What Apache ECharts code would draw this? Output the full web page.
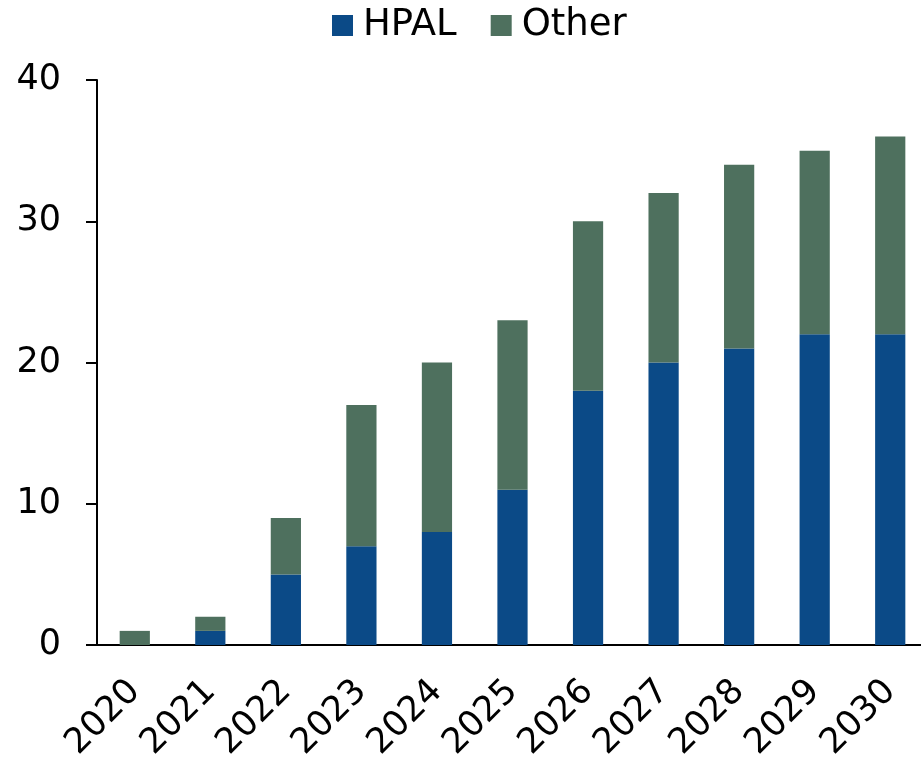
<!DOCTYPE html>
<html>
<head>
<meta charset="utf-8">
<script src="https://cdn.jsdelivr.net/npm/echarts@6/dist/echarts.min.js"></script>
<style>
  html, body { margin: 0; padding: 0; background: #fff; }
  #chart { width: 921px; height: 760px; }
</style>
</head>
<body>
<div id="chart"></div>
<script>
// Years on the category axis
const years = ['2020', '2021', '2022', '2023', '2024', '2025', '2026', '2027', '2028', '2029', '2030'];
// Stacked components
const hpal = [0, 1, 5, 7, 8, 11, 18, 20, 21, 22, 22];
const other = [1, 1, 4, 10, 12, 12, 12, 12, 13, 13, 14];
const yTicks = [0, 10, 20, 30, 40];

const FONT = 'DejaVu Sans';
const chart = echarts.init(document.getElementById('chart'));

chart.setOption({
  animation: false,
  textStyle: { fontFamily: FONT, color: '#000' },
  legend: {
    top: 2,
    left: 327,
    itemWidth: 21,
    itemHeight: 21,
    itemGap: 34,
    icon: 'rect',
    textStyle: { fontFamily: FONT, fontSize: 37, color: '#000', padding: [0, 0, 0, 5] },
    data: ['HPAL', 'Other']
  },
  grid: { left: 97, top: 80, width: 831, height: 565, outerBoundsMode: 'none', containLabel: false },
  xAxis: {
    type: 'category',
    data: years,
    axisLine: { lineStyle: { color: '#000', width: 2 } },
    axisTick: { show: false },
    axisLabel: {
      rotate: 45,
      fontFamily: FONT,
      fontSize: 35,
      color: '#000',
      margin: 41,
      interval: 0,
      hideOverlap: false
    }
  },
  yAxis: {
    type: 'value',
    min: yTicks[0],
    max: yTicks[yTicks.length - 1],
    interval: 10,
    splitLine: { show: false },
    axisLine: { show: true, lineStyle: { color: '#000', width: 2 } },
    axisTick: { show: true, length: 11, lineStyle: { color: '#000', width: 2 } },
    axisLabel: { fontFamily: FONT, fontSize: 35, color: '#000', margin: 36 }
  },
  series: [
    {
      name: 'HPAL',
      type: 'bar',
      stack: 'total',
      barWidth: '40%',
      itemStyle: { color: '#0b4a87' },
      data: hpal
    },
    {
      name: 'Other',
      type: 'bar',
      stack: 'total',
      barWidth: '40%',
      itemStyle: { color: '#4e705e' },
      data: other
    }
  ]
});
</script>
</body>
</html>
